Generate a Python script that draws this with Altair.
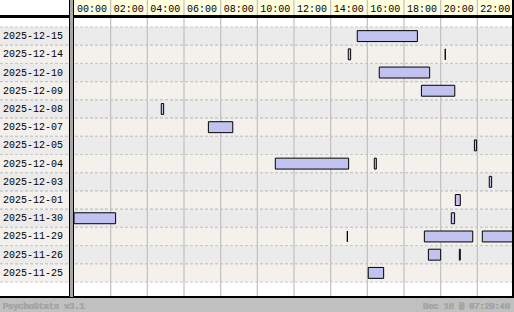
import altair as alt
import pandas as pd

# ---- data ----
dates = ["2025-12-15", "2025-12-14", "2025-12-10", "2025-12-09", "2025-12-08",
         "2025-12-07", "2025-12-05", "2025-12-04", "2025-12-03", "2025-12-01",
         "2025-11-30", "2025-11-29", "2025-11-26", "2025-11-25"]

sess_date = ["2025-12-15", "2025-12-14", "2025-12-14", "2025-12-10", "2025-12-09",
             "2025-12-08", "2025-12-07", "2025-12-05", "2025-12-04", "2025-12-04",
             "2025-12-03", "2025-12-01", "2025-11-30", "2025-11-30", "2025-11-29",
             "2025-11-29", "2025-11-29", "2025-11-26", "2025-11-26", "2025-11-25"]
sess_start = [15.45, 14.96, 20.25, 16.65, 18.95,
              4.76, 7.33, 21.84, 10.98, 16.38,
              22.65, 20.80, 0.00, 20.58, 14.91,
              19.11, 22.27, 19.33, 21.02, 16.05]
sess_end = [18.73, 15.09, 20.25, 19.40, 20.77,
            4.89, 8.66, 21.96, 14.98, 16.49,
            22.78, 21.07, 2.27, 20.76, 14.91,
            21.75, 24.00, 20.00, 21.07, 16.89]

tick_hours = [0, 2, 4, 6, 8, 10, 12, 14, 16, 18, 20, 22]
tick_labels = ["00:00", "02:00", "04:00", "06:00", "08:00", "10:00",
               "12:00", "14:00", "16:00", "18:00", "20:00", "22:00"]
grid_hours = [2, 4, 6, 8, 10, 12, 14, 16, 18, 20, 22]

footer_left = "PsychoStats v3.1"
footer_right = "Dec 16 @ 07:29:46"

# ---- tables ----
rows = pd.DataFrame({"date": dates, "shade": ["a" if i % 2 == 0 else "b" for i in range(len(dates))]})
sessions = pd.DataFrame({"date": sess_date, "start": sess_start, "end": sess_end})
grid = pd.DataFrame({"h": grid_hours})
ticks = pd.DataFrame({"h": tick_hours, "label": tick_labels})

W, H = 440, 255
FONT = "Liberation Mono"

yscale = alt.Scale(domain=dates, paddingInner=0, paddingOuter=0)
xscale = alt.Scale(domain=[0, 24], nice=False, zero=False)

base_rows = alt.Chart(rows)

row_bg = base_rows.mark_rect().encode(
    y=alt.Y("date:N", scale=yscale, sort=dates, axis=None),
    x=alt.value(-74), x2=alt.value(W),
    color=alt.Color("shade:N", scale=alt.Scale(domain=["a", "b"], range=["#ebebeb", "#f4f1ec"]),
                    legend=None),
)

row_labels = base_rows.mark_text(font=FONT, fontSize=10, color="#000000",
                                 align="left", baseline="middle").encode(
    y=alt.Y("date:N", scale=yscale, sort=dates, axis=None),
    x=alt.value(-71),
    text="date:N",
)

header_bg = base_rows.mark_rect(color="#ffffe0").encode(
    x=alt.value(0), x2=alt.value(W), y=alt.value(-27), y2=alt.value(-10)
)

dash_top = base_rows.mark_rule(color="#c8c8c8", strokeWidth=1, strokeDash=[3, 2]).encode(
    y=alt.Y("date:N", scale=yscale, sort=dates, bandPosition=0, axis=None),
    x=alt.value(-74), x2=alt.value(W),
)
dash_bot = base_rows.mark_rule(color="#c8c8c8", strokeWidth=1, strokeDash=[3, 2]).encode(
    y=alt.Y("date:N", scale=yscale, sort=dates, bandPosition=1, axis=None),
    x=alt.value(-74), x2=alt.value(W),
)

grid_lines = alt.Chart(grid).mark_rule(color="#c0c0c0", strokeWidth=1.2).encode(
    x=alt.X("h:Q", scale=xscale, axis=None),
    y=alt.value(-27), y2=alt.value(270),
)

head_labels = alt.Chart(ticks).mark_text(font=FONT, fontSize=10, color="#000000",
                                         align="left", baseline="alphabetic", dx=3).encode(
    x=alt.X("h:Q", scale=xscale, axis=None),
    y=alt.value(-15.5),
    text="label:N",
)

bars = alt.Chart(sessions).mark_bar(
    color="#c2c2f0", stroke="#000000", strokeWidth=1, height=alt.RelativeBandSize(0.6)
).encode(
    x=alt.X("start:Q", scale=xscale, axis=None),
    x2="end:Q",
    y=alt.Y("date:N", scale=yscale, sort=dates, axis=None),
)

footer_bg = base_rows.mark_rect(color="#c0c0c0").encode(
    x=alt.value(-74), x2=alt.value(W), y=alt.value(270), y2=alt.value(285)
)
footer_line = base_rows.mark_rule(color="#000000", strokeWidth=1.5).encode(
    x=alt.value(-74), x2=alt.value(W), y=alt.value(270)
)
header_line = base_rows.mark_rule(color="#000000", strokeWidth=1.5).encode(
    x=alt.value(-74), x2=alt.value(W), y=alt.value(-10.5)
)
sep_gray = base_rows.mark_rect(color="#a8a8a8").encode(
    x=alt.value(-4), x2=alt.value(-1), y=alt.value(-27), y2=alt.value(270)
)
sep_left = base_rows.mark_rule(color="#000000", strokeWidth=1).encode(
    x=alt.value(-4.5), y=alt.value(-27), y2=alt.value(270)
)
sep_right = base_rows.mark_rule(color="#000000", strokeWidth=1).encode(
    x=alt.value(-0.5), y=alt.value(-27), y2=alt.value(270)
)
border_right = base_rows.mark_rule(color="#000000", strokeWidth=1.5).encode(
    x=alt.value(W - 0.75), y=alt.value(-27), y2=alt.value(270)
)

foot_l = base_rows.mark_text(text=footer_left, font=FONT, fontSize=8.5, color="#a6a6a6",
                             align="left", baseline="middle").encode(
    x=alt.value(-71), y=alt.value(278.5)
)
foot_r = base_rows.mark_text(text=footer_right, font=FONT, fontSize=8.5, color="#a6a6a6",
                             align="right", baseline="middle").encode(
    x=alt.value(W - 4), y=alt.value(278.5)
)

chart = alt.layer(
    row_bg, header_bg, dash_top, dash_bot, grid_lines, head_labels, row_labels, bars,
    footer_bg, footer_line, header_line, sep_gray, sep_left, sep_right, border_right,
    foot_l, foot_r,
).properties(
    width=W, height=H,
    autosize=alt.AutoSizeParams(type="none"),
    padding={"left": 74, "top": 27, "right": 0, "bottom": 30},
    background="#ffffff",
).configure_view(stroke=None)

chart.save("out.html", embed_options={"renderer": "svg", "actions": False})
